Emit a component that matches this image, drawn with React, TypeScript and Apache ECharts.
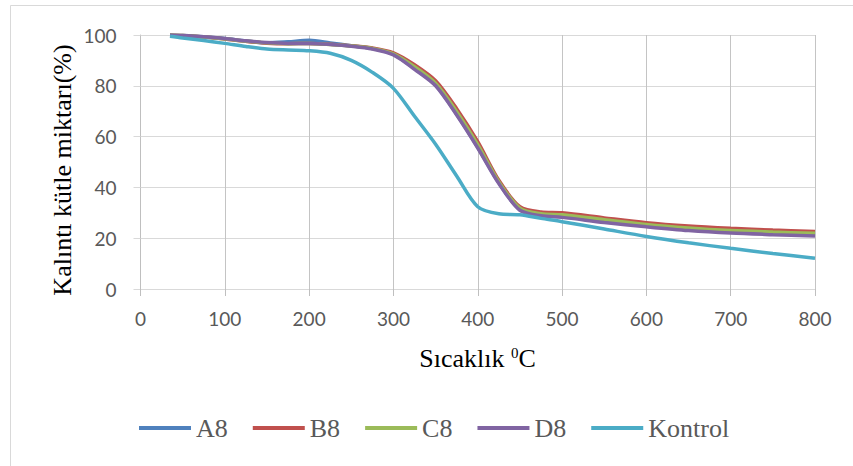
import React, { useEffect, useRef } from "react";
import * as echarts from "echarts";

const temps = [35, 50, 75, 100, 125, 150, 175, 200, 225, 250, 275, 300, 325, 350, 375, 400, 425, 450, 475, 500, 550, 600, 650, 700, 750, 800];

const seriesNames = ["A8", "B8", "C8", "D8", "Kontrol"];
const colors = ["#4F81BD", "#C0504D", "#9BBB59", "#8064A2", "#4BACC6"];

const a8 = [100, 99.8, 99.3, 98.6, 97.6, 96.9, 97.3, 97.9, 96.9, 95.8, 94.7, 92.4, 86.8, 80.3, 68.8, 55.8, 41.8, 31.2, 29.0, 28.4, 26.6, 24.9, 23.4, 22.4, 21.8, 21.3];
const b8 = [100, 99.8, 99.2, 98.4, 97.5, 96.8, 96.6, 96.7, 96.4, 95.8, 94.9, 93.0, 88.3, 82.0, 71.0, 58.0, 42.8, 32.4, 30.3, 30.0, 28.0, 26.1, 24.8, 23.9, 23.2, 22.6];
const c8 = [100, 99.8, 99.2, 98.5, 97.6, 96.9, 96.6, 96.7, 96.3, 95.7, 94.7, 92.6, 87.5, 81.0, 69.8, 56.8, 42.2, 31.8, 29.6, 29.2, 27.3, 25.4, 24.0, 23.0, 22.4, 21.9];
const d8 = [100, 99.8, 99.3, 98.6, 97.7, 97.0, 96.7, 96.7, 96.3, 95.6, 94.5, 92.2, 86.5, 80.0, 68.5, 55.5, 41.5, 31.0, 28.8, 28.2, 26.2, 24.5, 23.0, 22.0, 21.4, 20.9];
const kontrol = [99.5, 98.8, 97.8, 96.7, 95.5, 94.5, 94.1, 93.8, 92.8, 90.0, 85.3, 79.0, 68.0, 57.0, 44.5, 32.4, 29.6, 29.2, 27.8, 26.5, 23.6, 20.7, 18.2, 16.0, 14.0, 12.1];

const allValues = [a8, b8, c8, d8, kontrol];

const xTicks = { min: 0, max: 800, interval: 100 };
const yTicks = { min: 0, max: 100, interval: 20 };

const yTitle = "Kalıntı kütle miktarı(%)";

export default function App() {
  const ref = useRef<HTMLDivElement>(null);

  useEffect(() => {
    document.body.style.margin = "0";
    if (!ref.current) return;
    const chart = echarts.init(ref.current, undefined, { renderer: "svg" });
    const option = {
      animation: false,
      backgroundColor: "#ffffff",
      grid: { left: 140.5, right: 38, top: 35, bottom: 177, containLabel: false },
      xAxis: {
        type: "value",
        min: xTicks.min,
        max: xTicks.max,
        interval: xTicks.interval,
        axisLine: { show: true, lineStyle: { color: "#d9d9d9", width: 1 } },
        axisTick: { show: true, length: 7, lineStyle: { color: "#bfbfbf" } },
        axisLabel: { color: "#595959", fontFamily: "Lato", fontSize: 19, margin: 20 },
        splitLine: { show: true, lineStyle: { color: "#c4c4c4", width: 1 } },
      },
      yAxis: {
        type: "value",
        min: yTicks.min,
        max: yTicks.max,
        interval: yTicks.interval,
        axisLine: { show: true, lineStyle: { color: "#bfbfbf", width: 1 } },
        axisTick: { show: true, length: 7, lineStyle: { color: "#d9d9d9" } },
        axisLabel: { color: "#595959", fontFamily: "Lato", fontSize: 19, margin: 24 },
        splitLine: { show: true, lineStyle: { color: "#d9d9d9", width: 1 } },
      },
      legend: {
        left: 134,
        top: 410,
        itemWidth: 52,
        itemHeight: 14,
        itemGap: 25,
        icon: "path://M0,0 L52,0 L52,4 L0,4 Z",
        textStyle: { color: "#595959", fontFamily: "Liberation Serif", fontSize: 26, padding: [0, 0, 0, 0] },
        data: seriesNames,
      },
      graphic: [
        {
          type: "rect",
          shape: { x: 10.5, y: 5.5, width: 900, height: 500 },
          style: { fill: "none", stroke: "#d9d9d9", lineWidth: 1 },
          silent: true,
          z: -10,
        },
        {
          type: "text",
          x: 62,
          y: 170,
          rotation: Math.PI / 2,
          style: {
            text: yTitle,
            fill: "#000000",
            fontFamily: "Liberation Serif",
            fontSize: 26,
            align: "center",
            verticalAlign: "middle",
          },
        },
        {
          type: "text",
          x: 477.5,
          y: 358,
          style: {
            text: "{a|Sıcaklık }{s|0}{a|C}",
            align: "center",
            verticalAlign: "middle",
            rich: {
              a: { fill: "#000000", fontFamily: "Liberation Serif", fontSize: 26 },
              s: { fill: "#000000", fontFamily: "Liberation Serif", fontSize: 15, verticalAlign: "top", padding: [0, 0, 8, 0] },
            },
          },
        },
      ],
      series: seriesNames.map((name, i) => ({
        name,
        type: "line",
        data: temps.map((t, j) => [t, allValues[i][j]]),
        smooth: 0.3,
        symbol: "none",
        showSymbol: false,
        color: colors[i],
        lineStyle: { width: 3.5, color: colors[i] },
        itemStyle: { color: colors[i] },
      })),
    };
    chart.setOption(option);
    return () => chart.dispose();
  }, []);

  return <div ref={ref} style={{ width: 853, height: 466 }} />;
}
